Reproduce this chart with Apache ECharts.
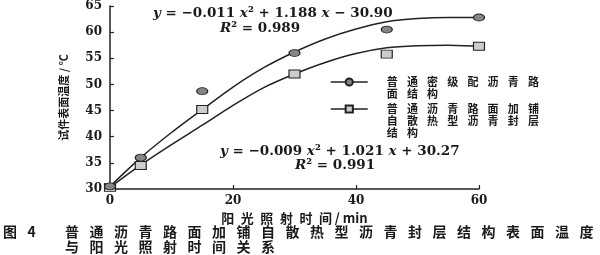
<!DOCTYPE html>
<html><head><meta charset="utf-8">
<script src="https://cdn.jsdelivr.net/npm/echarts@6/dist/echarts.min.js"></script>
<style>html,body{margin:0;padding:0;background:#fff}#c{width:600px;height:255px}</style>
</head><body><div id="c"></div>
<script>
// ---- data ----
var xTicks = [0, 20, 40, 60];
var seriesNames = ['普通密级配沥青路面结构', '普通沥青路面加铺自散热型沥青封层结构'];
var denseX = [0, 5, 15, 30, 45, 60];
var denseY = [30.5, 36.0, 48.7, 56.0, 60.5, 62.8];
var sealX = [0, 5, 15, 30, 45, 60];
var sealY = [30.3, 34.5, 45.2, 52.0, 55.8, 57.3];
var fitX = [0, 5, 10, 15, 20, 25, 30, 35, 40, 45, 50, 55, 60];
var denseFitY = [30.5, 36.0, 40.8, 45.2, 49.5, 53.2, 56.2, 58.7, 60.6, 62.0, 62.6, 62.8, 62.8];
var sealFitY = [30.3, 34.6, 38.5, 42.2, 46.0, 49.4, 52.0, 54.2, 55.9, 57.0, 57.4, 57.5, 57.3];
var eq1 = ['y', ' = −0.011 ', 'x', '² + 1.188 ', 'x', ' − 30.90'];
var r1 = '0.989';
var eq2 = ['y', ' = −0.009 ', 'x', '² + 1.021 ', 'x', ' + 30.27'];
var r2 = '0.991';
var xName = '阳光照射时间';
var yName = '试件表面温度';
var captionLabel = '图 4';
var captionLines = ['普通沥青路面加铺自散热型沥青封层结构表面温度', '与阳光照射时间关系'];

function zip(a, b) { return a.map(function (v, i) { return [v, b[i]]; }); }
function spread(s, sp) { return s.split('').join(sp || '\u2002'); }

var TXT = '#1a1a1a';
var SERIF = 'DejaVu Serif';
var CJK = 'Noto Sans CJK SC';

function eqRich(parts) {
  return parts.map(function (p) {
    return (p === 'x' || p === 'y') ? '{i|' + p + '}' : '{n|' + p + '}';
  }).join('');
}
var eqRichStyle = {
  i: { fontFamily: SERIF, fontStyle: 'italic', fontWeight: 'bold', fontSize: 13.5, fill: TXT },
  n: { fontFamily: SERIF, fontWeight: 'bold', fontSize: 13.5, fill: TXT }
};

var chart = echarts.init(document.getElementById('c'), null, { renderer: 'canvas' });

var legendLines = [['普通密级配沥青路', '面结构'], ['普通沥青路面加铺', '自散热型沥青封层', '结构']];

function legendCfg(idx, top) {
  var lines = legendLines[idx];
  var pre = [];
  for (var k = 0; k < lines.length - 1; k++) pre.push(' ');
  return {
    data: [seriesNames[idx]],
    left: 330, top: top, padding: 0,
    itemWidth: 37, itemHeight: 9,
    formatter: function () { return pre.concat(lines.map(function (l) { return spread(l, '\u2002\u2004'); })).join('\n'); },
    textStyle: { fontFamily: CJK, fontSize: 11, fontWeight: 'bold', color: TXT, lineHeight: 12, padding: [0, 0, 0, 14] },
    lineStyle: { color: '#222', width: 1.5, opacity: 1 },
    selectedMode: false
  };
}

chart.setOption({
  animation: false,
  grid: { left: 110, right: 121, top: 5, bottom: 66 },
  xAxis: {
    type: 'value', min: 0, max: 60, interval: 20,
    name: spread(xName) + ' / min', nameLocation: 'middle', nameGap: 8,
    nameTextStyle: { fontFamily: CJK, fontSize: 13, fontWeight: 'bold', color: TXT },
    axisLine: { lineStyle: { color: '#222', width: 1.5 } },
    axisTick: { inside: true, length: 4, lineStyle: { color: '#222', width: 1.2 } },
    axisLabel: { fontFamily: SERIF, fontWeight: 'bold', fontSize: 12, color: TXT, margin: 6,
      customValues: xTicks },
    splitLine: { show: false }
  },
  yAxis: {
    type: 'value', min: 30, max: 65, interval: 5,
    name: yName + ' / ℃', nameLocation: 'middle', nameGap: 41,
    nameTextStyle: { fontFamily: CJK, fontSize: 11, fontWeight: 'bold', color: TXT },
    axisLine: { show: true, lineStyle: { color: '#222', width: 1.5 } },
    axisTick: { show: true, inside: true, length: 4, lineStyle: { color: '#222', width: 1.2 } },
    axisLabel: { fontFamily: SERIF, fontWeight: 'bold', fontSize: 12, color: TXT, margin: 8 },
    splitLine: { show: false }
  },
  legend: [legendCfg(0, 64), legendCfg(1, 79)],
  series: [
    { name: 'fit1', type: 'line', smooth: 0.25, symbol: 'none', data: zip(fitX, denseFitY),
      lineStyle: { color: '#222', width: 1.5 }, z: 2, silent: true },
    { name: 'fit2', type: 'line', smooth: 0.25, symbol: 'none', data: zip(fitX, sealFitY),
      lineStyle: { color: '#222', width: 1.5 }, z: 2, silent: true },
    { name: seriesNames[0], type: 'line', data: zip(denseX, denseY), symbol: 'circle', symbolSize: [11, 7],
      lineStyle: { opacity: 0 }, itemStyle: { color: '#858585', borderColor: '#222', borderWidth: 1 }, z: 4 },
    { name: seriesNames[1], type: 'line', data: zip(sealX, sealY), symbol: 'rect', symbolSize: [11, 8],
      lineStyle: { opacity: 0 }, itemStyle: { color: '#cdcdcd', borderColor: '#222', borderWidth: 1 }, z: 3 }
  ],
  graphic: [
    { type: 'text', left: 153, top: 6, style: { text: eqRich(eq1), rich: eqRichStyle } },
    { type: 'text', left: 220, top: 21, style: { text: '{i|R}{n|² = ' + r1 + '}', rich: eqRichStyle } },
    { type: 'text', left: 220, top: 144, style: { text: eqRich(eq2), rich: eqRichStyle } },
    { type: 'text', left: 295, top: 158, style: { text: '{i|R}{n|² = ' + r2 + '}', rich: eqRichStyle } },
    { type: 'text', left: 3, top: 225, style: { text: spread(captionLabel.replace(' ', ''), '\u2002\u2005'), fontFamily: CJK, fontSize: 14, fontWeight: 'bold', fill: TXT } },
    { type: 'text', left: 65, top: 225, style: { text: spread(captionLines[0], '\u2002\u2005'), fontFamily: CJK, fontSize: 14, fontWeight: 'bold', fill: TXT } },
    { type: 'text', left: 65, top: 240, style: { text: spread(captionLines[1], '\u2002\u2005'), fontFamily: CJK, fontSize: 14, fontWeight: 'bold', fill: TXT } }
  ]
});
</script></body></html>
